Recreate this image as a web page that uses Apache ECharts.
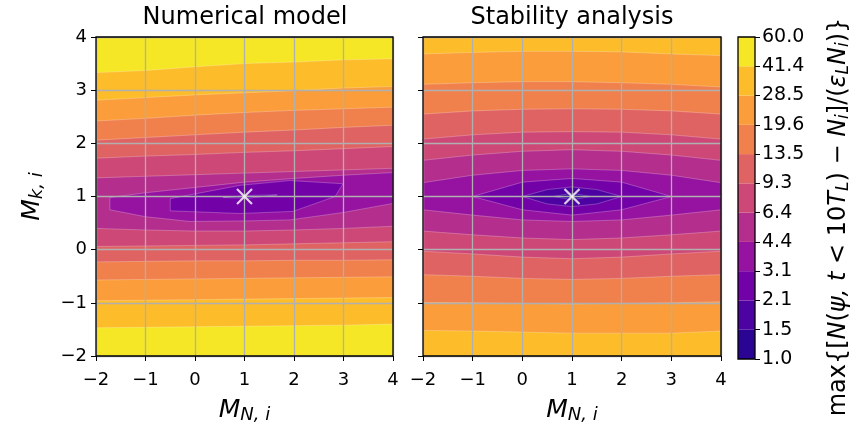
<!DOCTYPE html>
<html>
<head>
<meta charset="utf-8">
<script src="https://cdn.jsdelivr.net/npm/echarts@6/dist/echarts.min.js"></script>
<style>
  html, body { margin: 0; padding: 0; background: #fff; }
  #chart { width: 852px; height: 429px; }
</style>
</head>
<body>
<div id="chart"></div>
<script>
// contour levels (colorbar boundaries) and the fill colour of each band
var levels = [1.0, 1.5, 2.1, 3.1, 4.4, 6.4, 9.3, 13.5, 19.6, 28.5, 41.4, 60.0];
var bandColors = ['#2a0593', '#4d02a2', '#7301a8', '#9613a1', '#b42e8d', '#cd4877',
                  '#e06363', '#f0814d', '#fa9d3a', '#fdbd2b', '#f5e726'];
var sampleX = [-2, -1, 0, 1, 2, 3, 4];
var optimum = [[1, 1]];

// Numerical model: contour lines read at sampleX (upper and lower branch)
var numStripeLevels = [41.4, 28.5, 19.6, 13.5, 9.3, 6.4];
var numUpper = [
  [3.33, 3.37, 3.44, 3.50, 3.53, 3.57, 3.59],
  [2.81, 2.86, 2.91, 2.95, 2.99, 3.04, 3.07],
  [2.42, 2.47, 2.53, 2.58, 2.62, 2.65, 2.68],
  [2.06, 2.11, 2.16, 2.21, 2.25, 2.30, 2.34],
  [1.72, 1.76, 1.79, 1.83, 1.86, 1.90, 1.94],
  [1.35, 1.38, 1.41, 1.44, 1.47, 1.50, 1.53]
];
var numLower = [
  [-1.47, -1.46, -1.45, -1.44, -1.43, -1.42, -1.40],
  [-0.96, -0.95, -0.94, -0.93, -0.92, -0.91, -0.90],
  [-0.57, -0.56, -0.55, -0.54, -0.53, -0.52, -0.51],
  [-0.23, -0.22, -0.21, -0.21, -0.20, -0.20, -0.19],
  [0.06, 0.07, 0.08, 0.09, 0.11, 0.13, 0.15],
  [0.40, 0.37, 0.35, 0.35, 0.37, 0.40, 0.44]
];
// closed / edge-touching contours around the minimum
var numLoopLevels = [4.4, 3.1, 2.1];
var numLoops = [
  [[-1.72, 0.98], [-1, 1.07], [0, 1.17], [1, 1.27], [2, 1.34], [3, 1.40], [4, 1.45],
   [4, 0.87], [3, 0.70], [1.92, 0.56], [1, 0.54], [-0.1, 0.53], [-1, 0.62], [-1.72, 0.75]],
  [[-0.5, 0.96], [0.91, 1.21], [1.92, 1.30], [2.99, 1.24], [2.83, 1.0],
   [1.98, 0.72], [0.91, 0.68], [-0.5, 0.73]],
  [[0.57, 0.98], [1.1, 1.02], [1.66, 1.03], [1.1, 0.97]]
];

// Stability analysis
var stbStripeLevels = [28.5, 19.6, 13.5, 9.3, 6.4, 4.4];
var stbUpper = [
  [3.68, 3.71, 3.73, 3.73, 3.72, 3.68, 3.65],
  [3.11, 3.14, 3.16, 3.16, 3.14, 3.11, 3.06],
  [2.55, 2.61, 2.64, 2.65, 2.64, 2.61, 2.55],
  [2.08, 2.16, 2.21, 2.22, 2.21, 2.16, 2.08],
  [1.68, 1.78, 1.85, 1.88, 1.85, 1.78, 1.68],
  [1.26, 1.40, 1.49, 1.52, 1.49, 1.40, 1.26]
];
var stbLower = [
  [-1.52, -1.53, -1.55, -1.57, -1.57, -1.57, -1.53],
  [-0.99, -1.00, -1.01, -1.02, -1.01, -1.00, -0.98],
  [-0.47, -0.50, -0.54, -0.56, -0.54, -0.50, -0.47],
  [-0.03, -0.08, -0.14, -0.17, -0.14, -0.08, -0.03],
  [0.35, 0.28, 0.22, 0.19, 0.22, 0.28, 0.35],
  [0.75, 0.65, 0.56, 0.53, 0.56, 0.65, 0.75]
];
var stbLoopLevels = [3.1, 2.1, 1.5];
var stbLoops = [
  [[-1, 1], [0, 1.27], [1, 1.34], [2, 1.27], [3, 1], [2, 0.75], [1, 0.65], [0, 0.75]],
  [[0, 1], [0.5, 1.13], [1, 1.18], [1.5, 1.13], [2, 1], [1.5, 0.86], [1, 0.81], [0.5, 0.86]],
  [[0.63, 1], [1, 1.06], [1.37, 1], [1, 0.94]]
];

var XMIN = -2, XMAX = 4, YMIN = -2, YMAX = 4;
var FONT = 'DejaVu Sans';

function bandColorBelow(level) {
  return bandColors[levels.indexOf(level) - 1];
}

function buildRegions(topLevel, stripeLevels, upper, lower, loopLevels, loops) {
  var regions = [{
    color: bandColorBelow(topLevel),
    pts: [[XMIN, YMIN], [XMAX, YMIN], [XMAX, YMAX], [XMIN, YMAX]]
  }];
  stripeLevels.forEach(function (lv, k) {
    var pts = upper[k].map(function (y, i) { return [sampleX[i], y]; });
    var low = lower[k].map(function (y, i) { return [sampleX[i], y]; }).reverse();
    regions.push({ color: bandColorBelow(lv), pts: pts.concat(low) });
  });
  loopLevels.forEach(function (lv, k) {
    regions.push({ color: bandColorBelow(lv), pts: loops[k] });
  });
  return regions;
}

var numRegions = buildRegions(60.0, numStripeLevels, numUpper, numLower, numLoopLevels, numLoops);
var stbRegions = buildRegions(41.4, stbStripeLevels, stbUpper, stbLower, stbLoopLevels, stbLoops);

function contourSeries(idx, regions) {
  return {
    type: 'custom',
    xAxisIndex: idx,
    yAxisIndex: idx,
    clip: true,
    z: 2,
    silent: true,
    data: regions.map(function (r, i) { return [i]; }),
    renderItem: function (params, api) {
      var r = regions[params.dataIndex];
      return {
        type: 'polygon',
        shape: { points: r.pts.map(function (p) { return api.coord(p); }) },
        style: { fill: r.color, stroke: 'rgba(255,255,255,0.35)', lineWidth: 0.7 }
      };
    }
  };
}

function minusFmt(v) {
  return v < 0 ? '\u2212' + Math.abs(v) : String(v);
}

var subRich = {
  m: { fontFamily: FONT, fontStyle: 'italic', fontSize: 25, color: '#000' },
  s: { fontFamily: FONT, fontStyle: 'italic', fontSize: 18, color: '#000', verticalAlign: 'bottom', padding: [10, 0, 0, 0] }
};

function xAxisFor(idx) {
  return {
    type: 'value', gridIndex: idx, min: XMIN, max: XMAX, interval: 1, z: 5,
    axisLine: { show: false, onZero: false },
    axisTick: { show: true, length: 5, lineStyle: { color: '#000', width: 1 } },
    axisLabel: { color: '#000', fontFamily: FONT, fontSize: 18, margin: 15, formatter: minusFmt },
    splitLine: { show: true, lineStyle: { color: '#b0b0b0', width: 1.3 } },
    name: '{m|M}{s|N, i}',
    nameLocation: 'middle',
    nameGap: 40,
    nameTextStyle: { rich: subRich }
  };
}

function yAxisFor(idx, showLabels) {
  var ax = {
    type: 'value', gridIndex: idx, min: YMIN, max: YMAX, interval: 1, z: 5,
    axisLine: { show: false, onZero: false },
    axisTick: { show: true, length: 5, lineStyle: { color: '#000', width: 1 } },
    axisLabel: { show: showLabels, color: '#000', fontFamily: FONT, fontSize: 18, margin: 9, formatter: minusFmt },
    splitLine: { show: true, lineStyle: { color: '#b0b0b0', width: 1.3 } }
  };
  if (showLabels) {
    ax.name = '{m|M}{s|k, i}';
    ax.nameLocation = 'middle';
    ax.nameGap = 50;
    ax.nameTextStyle = { rich: subRich };
  }
  return ax;
}

var chart = echarts.init(document.getElementById('chart'), null, { renderer: 'canvas' });

var option = {
  backgroundColor: '#fff',
  animation: false,
  grid: [
    { left: 96, top: 37, width: 297, height: 322, show: true, borderColor: '#000', borderWidth: 1.3, backgroundColor: 'transparent', z: 10 },
    { left: 423, top: 37, width: 298, height: 322, show: true, borderColor: '#000', borderWidth: 1.3, backgroundColor: 'transparent', z: 10 },
    { left: 738, top: 37, width: 17, height: 322, show: true, borderColor: '#000', borderWidth: 1.3, backgroundColor: 'transparent', z: 10 }
  ],
  xAxis: [
    xAxisFor(0),
    xAxisFor(1),
    { type: 'value', gridIndex: 2, min: 0, max: 1, show: false }
  ],
  yAxis: [
    yAxisFor(0, true),
    yAxisFor(1, false),
    {
      type: 'value', gridIndex: 2, position: 'right', min: 0, max: levels.length - 1, interval: 1, z: 5,
      axisLine: { show: false, onZero: false },
      axisTick: { show: true, length: 5, lineStyle: { color: '#000', width: 1 } },
      axisLabel: {
        color: '#000', fontFamily: FONT, fontSize: 19, margin: 7,
        formatter: function (v) { return levels[v].toFixed(1); }
      },
      splitLine: { show: false }
    }
  ],
  graphic: [
    { type: 'text', x: 245, y: 18, style: { text: 'Numerical model', font: '24px "DejaVu Sans"', fill: '#000', textAlign: 'center', textVerticalAlign: 'middle' } },
    { type: 'text', x: 572, y: 18, style: { text: 'Stability analysis', font: '24px "DejaVu Sans"', fill: '#000', textAlign: 'center', textVerticalAlign: 'middle' } },
    {
      type: 'text', x: 839, y: 217, rotation: Math.PI / 2,
      style: {
        text: '{t|max{[}{i|N}{t|(}{i|\u03c8, t}{t| < 10}{i|T}{s|L}{t|) \u2212 }{i|N}{s|i}{t|]/(}{i|\u03b5}{s|L}{i|N}{s|i}{t|)}}',
        font: '24px "DejaVu Sans"', fill: '#000',
        textAlign: 'center', textVerticalAlign: 'middle',
        rich: {
          t: { fontFamily: FONT, fontSize: 24, fill: '#000' },
          i: { fontFamily: FONT, fontStyle: 'italic', fontSize: 24, fill: '#000' },
          s: { fontFamily: FONT, fontStyle: 'italic', fontSize: 17, fill: '#000', verticalAlign: 'bottom', padding: [9, 0, 0, 0] }
        }
      }
    }
  ],
  series: [
    contourSeries(0, numRegions),
    contourSeries(1, stbRegions),
    {
      type: 'scatter', xAxisIndex: 0, yAxisIndex: 0, z: 8, silent: true,
      symbol: 'path://M0,0L10,10M10,0L0,10', symbolSize: 15,
      itemStyle: { color: 'none', borderColor: '#fff', borderWidth: 2.2 },
      data: optimum
    },
    {
      type: 'scatter', xAxisIndex: 1, yAxisIndex: 1, z: 8, silent: true,
      symbol: 'path://M0,0L10,10M10,0L0,10', symbolSize: 15,
      itemStyle: { color: 'none', borderColor: '#fff', borderWidth: 2.2 },
      data: optimum
    },
    {
      type: 'custom', xAxisIndex: 2, yAxisIndex: 2, silent: true,
      data: bandColors.map(function (c, i) { return [i]; }),
      renderItem: function (params, api) {
        var i = params.dataIndex;
        var p0 = api.coord([0, i]);
        var p1 = api.coord([1, i + 1]);
        return {
          type: 'rect',
          shape: { x: p0[0], y: p1[1], width: p1[0] - p0[0], height: p0[1] - p1[1] },
          style: { fill: bandColors[i] }
        };
      }
    }
  ]
};

chart.setOption(option);
</script>
</body>
</html>
